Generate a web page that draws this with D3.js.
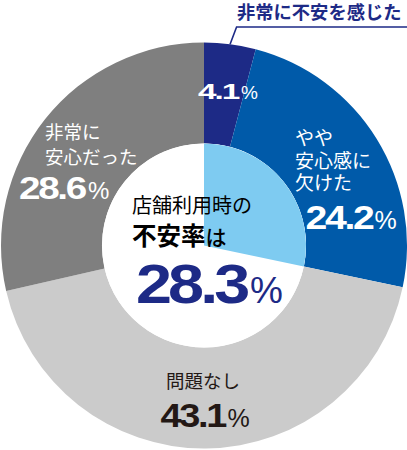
<!DOCTYPE html>
<html><head><meta charset="utf-8">
<script src="https://cdn.jsdelivr.net/npm/d3@7"></script>
<style>
html,body{margin:0;padding:0;background:#fff;}
svg{display:block;}
</style></head>
<body>
<svg id="chart" width="407" height="450"></svg>
<script>
// ---- data ----
const categories = ["非常に不安を感じた", "やや安心感に欠けた", "問題なし", "非常に安心だった"];
const values = [4.1, 24.2, 43.1, 28.6];
const labelLines = [[], ["やや", "安心感に", "欠けた"], ["問題なし"], ["非常に", "安心だった"]];
const anxietyRate = 28.3;
const centerLines = ["店舗利用時の", "不安率", "は"];

// ---- styles ----
const colors = ["#1d2a86", "#005aa9", "#cbcbcb", "#7f7f7f"];
const lightBlue = "#7ecbf1";
const navy = "#1d2a86";
const darkText = "#231815";
const JP = "'Noto Sans CJK JP', 'Noto Sans', sans-serif";
const NUM = "'Liberation Sans', Arial, sans-serif";

const svg = d3.select("#chart");
const cx = 204, cy = 245.5, rOuter = 203, rInner = 102;
const g = svg.append("g").attr("transform", `translate(${cx},${cy})`);

const pie = d3.pie().sort(null).value(d => d);
const arcs = pie(values);
const arc = d3.arc().innerRadius(rInner).outerRadius(rOuter);

g.selectAll("path.slice").data(arcs).join("path")
  .attr("class", "slice")
  .attr("d", arc)
  .attr("fill", (d, i) => colors[i]);

// inner white disc + light-blue sector for the anxiety rate
g.append("circle").attr("r", rInner).attr("fill", "#fff");
const angle = d3.scaleLinear().domain([0, 100]).range([0, 2 * Math.PI]);
g.append("path")
  .attr("d", d3.arc().innerRadius(0).outerRadius(rInner)({startAngle: 0, endAngle: angle(anxietyRate)}))
  .attr("fill", lightBlue);

// helper: number (tight tracking, horizontally scaled to fit width) + small %
const fmt = d3.format(".1f");
function pct(x, y, v, numSize, pctSize, numWidth, color, anchor) {
  const t = svg.append("g");
  const n = t.append("text").attr("x", x).attr("y", y)
    .attr("font-family", NUM).attr("font-weight", "bold")
    .attr("font-size", numSize).attr("fill", color)
    .attr("letter-spacing", (-0.06 * numSize) + "px")
    .text(fmt(v));
  const w0 = n.node().getBBox().width;
  const sx = numWidth / w0;
  n.attr("transform", `translate(${x},0) scale(${sx},1) translate(${-x},0)`);
  const p = t.append("text").attr("x", x + numWidth + 1).attr("y", y)
    .attr("font-family", NUM).attr("font-weight", "normal")
    .attr("font-size", pctSize).attr("fill", color)
    .text("%");
  if (anchor === "middle") {
    const w = numWidth + 1 + p.node().getComputedTextLength();
    t.attr("transform", `translate(${-w / 2},0)`);
  }
  return t;
}
function lines(x, y0, lh, arr, size, color, anchor) {
  arr.forEach((s, i) => {
    svg.append("text").attr("x", x).attr("y", y0 + i * lh)
      .attr("font-family", JP).attr("font-size", size)
      .attr("fill", color).attr("text-anchor", anchor || "start")
      .text(s);
  });
}

// slice 0: 4.1%
pct(198, 99.3, values[0], 22, 19, 42, "#fff");
// leader + callout label
const mid0 = (arcs[0].startAngle + arcs[0].endAngle) / 2;
const px = cx + rOuter * Math.sin(mid0), py = cy - rOuter * Math.cos(mid0);
svg.append("polyline")
  .attr("points", `${px},${py} ${px + 6.5},27 407,27`)
  .attr("fill", "none").attr("stroke", navy).attr("stroke-width", 1.6);
svg.append("text").attr("x", 237).attr("y", 18.5)
  .attr("font-family", JP).attr("font-weight", "bold").attr("font-size", 18.3)
  .attr("fill", navy).text(categories[0]);

// slice 1
lines(295, 145, 22.5, labelLines[1], 19, "#fff");
pct(305.5, 229.3, values[1], 32.5, 25, 68, "#fff");

// slice 2
lines(cx - 1, 388, 0, labelLines[2], 18.5, darkText, "middle");
pct(cx + 1, 427, values[2], 34, 25, 66, darkText, "middle");

// slice 3
lines(45, 139, 25, labelLines[3], 18.5, "#fff");
pct(19, 199, values[3], 31, 24, 68, "#fff");

// center text
svg.append("text").attr("x", 132).attr("y", 212.5)
  .attr("font-family", JP).attr("font-size", 20).attr("fill", "#000")
  .text(centerLines[0]);
const c2 = svg.append("text").attr("x", 132).attr("y", 245)
  .attr("font-family", JP).attr("fill", "#000");
c2.append("tspan").attr("font-size", 24.5).attr("font-weight", "bold").text(centerLines[1]);
c2.append("tspan").attr("font-size", 21).attr("font-weight", 500).text(centerLines[2]);
pct(136, 303, anxietyRate, 56, 37, 113, navy);
</script>
</body></html>
